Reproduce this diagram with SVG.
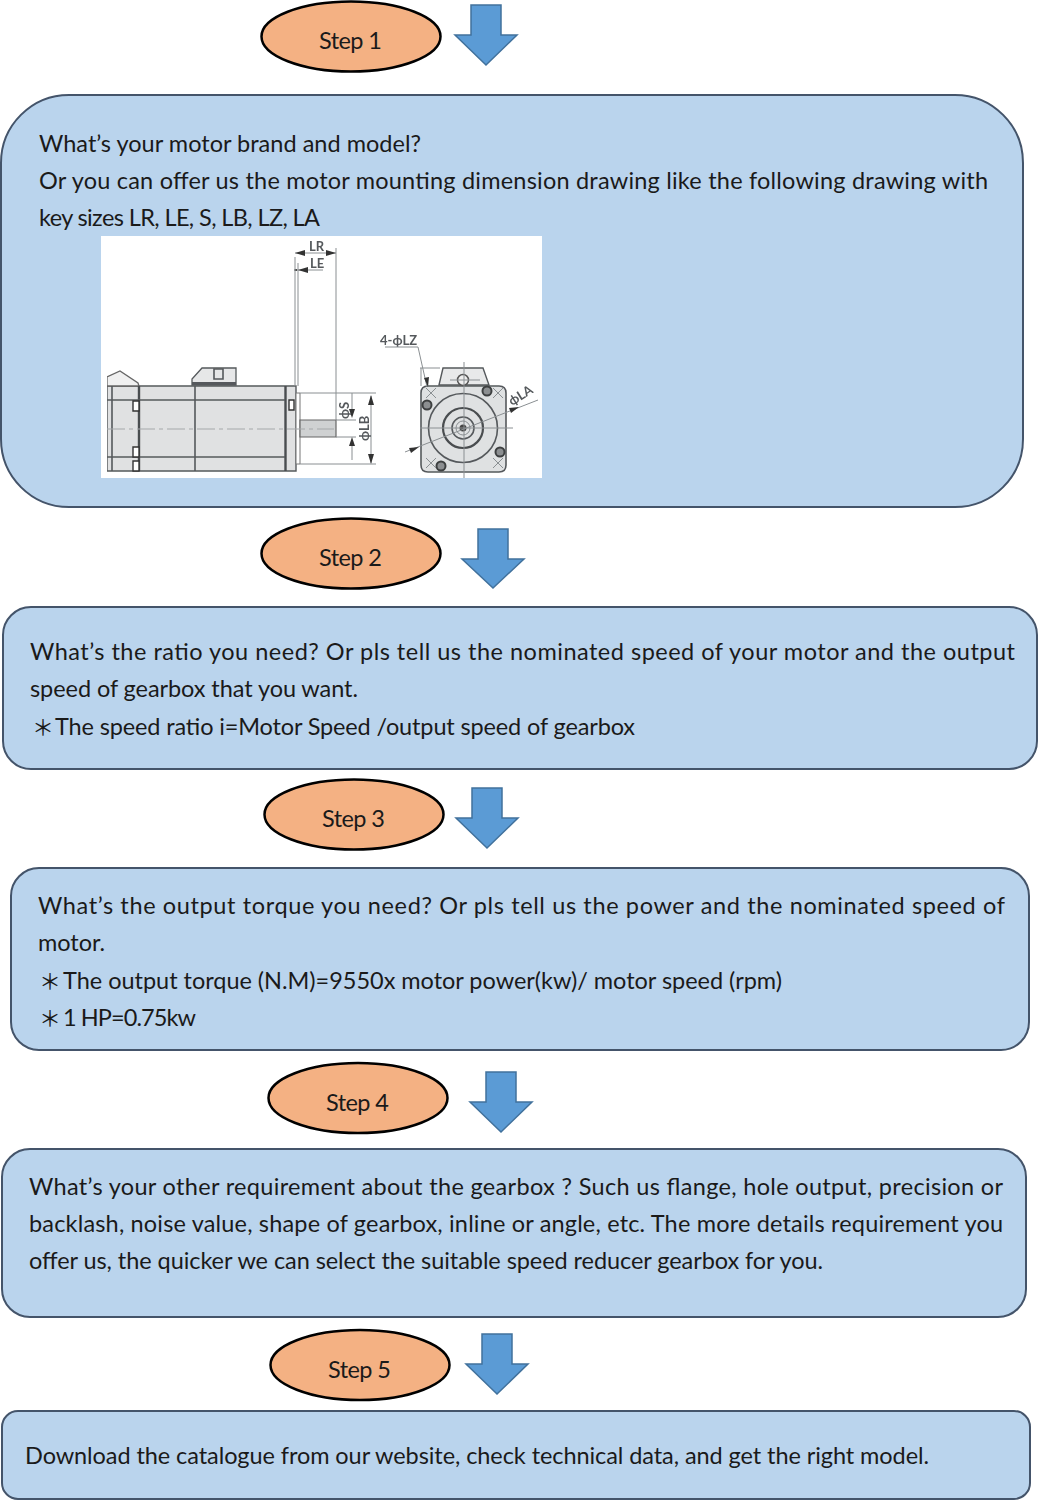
<svg xmlns="http://www.w3.org/2000/svg" width="1038" height="1500" viewBox="0 0 1038 1500">
<defs><filter id="soft" x="0" y="0" width="1" height="1"><feGaussianBlur stdDeviation="0.45"/></filter></defs>
<style>
.box{fill:#bad4ed;stroke:#44546a;stroke-width:2}
.oval{fill:#f4b183;stroke:#000;stroke-width:2.5}
.arrow{fill:#5b9bd5;stroke:#41719c;stroke-width:1.5}
text{font-family:"Lato","Carlito","Open Sans",sans-serif;font-size:23.5px;fill:#1a1a1a}
.cjk{font-family:"Noto Sans CJK SC",sans-serif;font-size:22px}
.m{fill:none;stroke:#55595c;stroke-width:1.6}
.h{fill:none;stroke:#4a4d50;stroke-width:2.4}
.t{fill:none;stroke:#8a8f92;stroke-width:1}
.d{fill:none;stroke:#a5a8aa;stroke-width:1;stroke-dasharray:18 4 4 4}
.k{fill:#333}
.l{font-family:"Lato",sans-serif;font-size:13px;font-weight:700;fill:#55595c}
</style>
<g id="connectors">
<polygon class="arrow" points="471,5 501,5 501,35 517,35 486,65 455,35 471,35"/>
<polygon class="arrow" points="478,529 508,529 508,559 524,559 493,588 462,559 478,559"/>
<polygon class="arrow" points="472,788 502,788 502,818 518,818 487,848 456,818 472,818"/>
<polygon class="arrow" points="486,1072 516,1072 516,1102 532,1102 501,1132 470,1102 486,1102"/>
<polygon class="arrow" points="482,1334 512,1334 512,1364 528,1364 497,1394 466,1364 482,1364"/>
</g>
<g id="step1"><ellipse class="oval" cx="351" cy="36.500" rx="89.500" ry="35"/><text x="319" y="49" textLength="63">Step 1</text></g>
<g id="box1">
<rect class="box" x="1" y="95" width="1022" height="412" rx="68"/>
<text x="39" y="152" textLength="382">What’s your motor brand and model?</text>
<text x="39" y="189" textLength="949">Or you can offer us the motor mounting dimension drawing like the following drawing with</text>
<text x="39" y="226" textLength="281">key sizes LR, LE, S, LB, LZ, LA</text>
<g id="motor-drawing">
<rect x="101" y="236" width="441" height="242" fill="#fff"/>
<g filter="url(#soft)">
<path d="M107 386H296V471H107Z" fill="#e0e1e2" stroke="#55595c" stroke-width="1.400"/>
<path d="M107 386V377L120 371L138 383L139 386Z" fill="#f0f0f0" stroke="#666" stroke-width="1.300"/>
<path d="M192 385V379L202 368H236V385Z" fill="#e6e7e8" stroke="#55595c" stroke-width="1.300"/>
<path d="M192 382H236V385H192Z" fill="#55595c"/>
<path d="M296 393H300V464H296Z" fill="#fff" stroke="#777" stroke-width="1"/>
<path d="M300 420H336V437H300Z" fill="#cfd1d2" stroke="#666" stroke-width="1.200"/>
<path class="h" d="M139 386V471 M285.500 386V471"/>
<path class="m" d="M195 386V471 M112 386V471 M107 400H285 M107 457H285 M214 369h9v10h-9z"/>
<path d="M133 401h6v10h-6z M133 447h6v10h-6z M133 461h6v10h-6z M289 400h5v10h-5z" fill="#fff" stroke="#333" stroke-width="1.400"/>
<path class="d" d="M107 429H334"/>
<path class="t" d="M295 257V386 M298 263V386 M336 248V420 M300 393H376 M300 464H376 M336 420H356 M336 437H356 M352 393V410 M352 446V460 M371 396V463 M295 253H336 M294 270H323"/>
<path class="k" d="M295 253l10-3v6z M336 253l-10-3v6z M294 270l3-1v2z M298 270l10-3v6z M371 395l-3 10h6z M371 464l-3-10h6z M352 418l-3-9h6z M352 437l-3 9h6z"/>
<text class="l" x="309" y="251">LR</text>
<text class="l" x="310" y="268">LE</text>
<text class="l" transform="translate(349 419) rotate(-90)">ϕS</text>
<text class="l" transform="translate(369 441) rotate(-90)">ϕLB</text>
<text class="l" x="380" y="345">4-ϕLZ</text>
<text class="l" transform="translate(512 406) rotate(-32)">ϕLA</text>
<path d="M439 385L443 368H483L489 385Z" fill="#e8e9ea" stroke="#55595c" stroke-width="1.400"/>
<path d="M421 393Q421 386 428 386H499Q506 386 506 393V465Q506 472 499 472H428Q421 472 421 465Z" fill="#dfe1e2" stroke="#55595c" stroke-width="1.600"/>
<circle cx="463" cy="380" r="5.500" fill="#eee" stroke="#555" stroke-width="1.500"/>
<circle class="m" cx="463" cy="428" r="34.500"/>
<circle cx="463" cy="428" r="20" fill="none" stroke="#4a4d50" stroke-width="2.200"/>
<circle class="m" cx="463" cy="428" r="11"/><circle class="t" cx="463" cy="428" r="7"/>
<circle cx="463" cy="428" r="3.500" fill="#444"/>
<g fill="#8c8f91" stroke="#3d3f41" stroke-width="2"><circle cx="487" cy="391" r="4.500"/><circle cx="427" cy="405" r="4.500"/><circle cx="500" cy="452" r="4.500"/><circle cx="441" cy="466" r="4.500"/></g>
<path class="t" d="M426 388l10 10m0-10l-10 10M493 388l10 10m0-10l-10 10M426 458l10 10m0-10l-10 10M493 458l10 10m0-10l-10 10"/>
<path class="t" d="M464 362V478 M420 428H513 M405 452L538 400 M385 347H418L427 387 M420 368H440 M421 368V386 M450 380H480"/>
<path class="k" d="M428 387l-4-9 5-1z M419 447l-10 1 2 5z M519 407l-10 1 2 5z"/>
</g>
</g>
</g>
<g id="step2"><ellipse class="oval" cx="351" cy="553.500" rx="89.500" ry="35"/><text x="319" y="566" textLength="63">Step 2</text></g>
<g id="box2">
<rect class="box" x="3" y="607" width="1034" height="162" rx="28"/>
<text x="30" y="660" textLength="985">What’s the ratio you need? Or pls tell us the nominated speed of your motor and the output</text>
<text x="30" y="697" textLength="328">speed of gearbox that you want.</text>
<text class="cjk" x="32" y="735">＊</text>
<text x="55" y="735" textLength="580">The speed ratio i=Motor Speed /output speed of gearbox</text>
</g>
<g id="step3"><ellipse class="oval" cx="354" cy="814.500" rx="89.500" ry="35"/><text x="322" y="827" textLength="63">Step 3</text></g>
<g id="box3">
<rect class="box" x="11" y="868" width="1018" height="182" rx="28"/>
<text x="38" y="914" textLength="967">What’s the output torque you need? Or pls tell us the power and the nominated speed of</text>
<text x="38" y="951" textLength="67">motor.</text>
<text class="cjk" x="39" y="989">＊</text>
<text x="63" y="989" textLength="719">The output torque (N.M)=9550x motor power(kw)/ motor speed (rpm)</text>
<text class="cjk" x="39" y="1026">＊</text>
<text x="63" y="1026" textLength="133">1 HP=0.75kw</text>
</g>
<g id="step4"><ellipse class="oval" cx="358" cy="1098" rx="89.500" ry="35"/><text x="326" y="1111" textLength="63">Step 4</text></g>
<g id="box4">
<rect class="box" x="2" y="1149" width="1024" height="168" rx="28"/>
<text x="29" y="1195" textLength="974">What’s your other requirement about the gearbox ? Such us flange, hole output, precision or</text>
<text x="29" y="1232" textLength="974">backlash, noise value, shape of gearbox, inline or angle, etc. The more details requirement you</text>
<text x="29" y="1269" textLength="794">offer us, the quicker we can select the suitable speed reducer gearbox for you.</text>
</g>
<g id="step5"><ellipse class="oval" cx="360" cy="1365" rx="89.500" ry="35"/><text x="328" y="1378" textLength="63">Step 5</text></g>
<g id="box5">
<rect class="box" x="2" y="1411" width="1028" height="88" rx="16"/>
<text x="25" y="1464" textLength="904">Download the catalogue from our website, check technical data, and get the right model.</text>
</g>
</svg>
